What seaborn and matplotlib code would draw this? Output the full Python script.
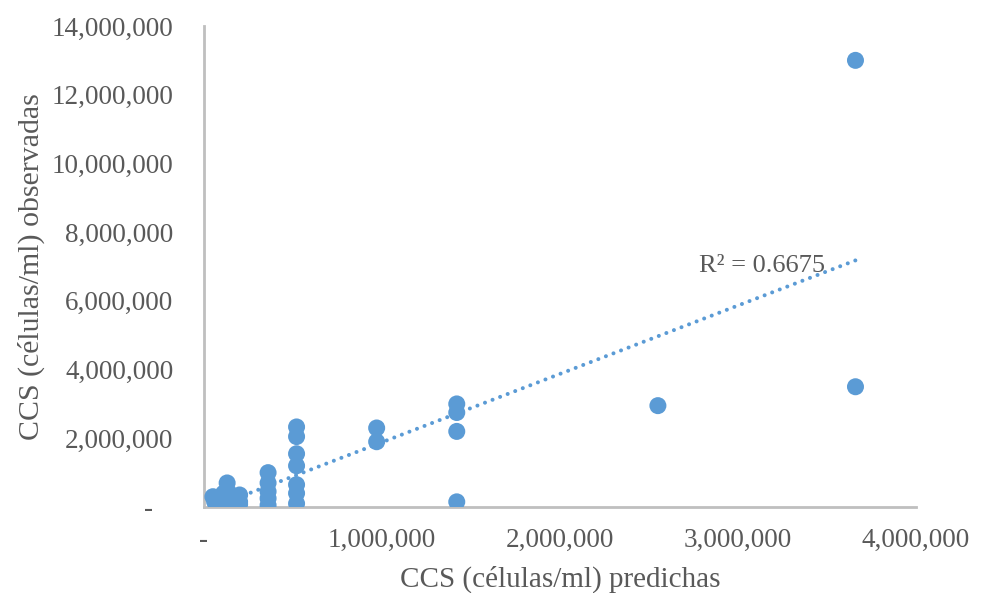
import numpy as np
import pandas as pd
import matplotlib
matplotlib.use("Agg")
import matplotlib.pyplot as plt
from matplotlib.ticker import FuncFormatter
import seaborn as sns

# Somatic cell count (CCS): predicted vs observed, cells/ml
predichas = [
    50_000, 60_000, 130_000, 135_000, 140_000, 200_000, 200_000, 100_000,
    120_000, 120_000, 150_000, 90_000, 170_000, 110_000, 130_000, 160_000,
    80_000, 100_000, 120_000, 140_000, 180_000, 200_000, 90_000, 150_000,
    110_000, 190_000, 70_000, 130_000, 160_000, 100_000, 180_000,
    120_000, 150_000,
    360_000, 360_000, 360_000, 360_000, 360_000,
    520_000, 520_000, 520_000, 520_000, 520_000, 520_000, 520_000,
    970_000, 970_000,
    1_420_000, 1_420_000, 1_420_000, 1_420_000,
    2_550_000,
    3_660_000, 3_660_000,
]
observadas = [
    300_000, 150_000, 700_000, 450_000, 50_000, 350_000, 80_000, 250_000,
    250_000, 200_000, 300_000, 100_000, 150_000, 400_000, 50_000, 200_000,
    60_000, 100_000, 80_000, 120_000, 60_000, 150_000, 200_000, 90_000,
    50_000, 250_000, 100_000, 60_000, 180_000, 300_000, 100_000,
    80_000, 150_000,
    1_000_000, 700_000, 450_000, 250_000, 50_000,
    2_330_000, 2_050_000, 1_550_000, 1_200_000, 650_000, 400_000, 100_000,
    2_300_000, 1_900_000,
    3_000_000, 2_750_000, 2_200_000, 150_000,
    2_950_000,
    13_000_000, 3_500_000,
]
r2_label = "R² = 0.6675"

x_ticks = [0, 1_000_000, 2_000_000, 3_000_000, 4_000_000]
y_ticks = [0, 2_000_000, 4_000_000, 6_000_000, 8_000_000, 10_000_000, 12_000_000, 14_000_000]

df = pd.DataFrame({"pred": predichas, "obs": observadas})

sns.set_theme(style="white")
plt.rcParams["font.family"] = ["Liberation Serif", "DejaVu Serif"]

blue = "#5b9bd5"
grey_txt = "#595959"
grey_axis = "#bfbfbf"

fig = plt.figure(figsize=(9.82, 5.93), dpi=100)
ax = fig.add_axes([204 / 982, 1 - 507 / 593, (916 - 204) / 982, (507 - 26) / 593])

sns.scatterplot(data=df, x="pred", y="obs", ax=ax, s=150, color=blue,
                edgecolor="none", linewidth=0, alpha=1, zorder=3)

# Linear least-squares trend line over the data range
slope, intercept = np.polyfit(df["pred"], df["obs"], 1)
xs = np.array([df["pred"].min(), df["pred"].max()])
ax.plot(xs, slope * xs + intercept, color=blue, lw=2.9, ls=(0, (0.01, 2.0)),
        dash_capstyle="round", zorder=2)

ax.text(2_780_000, 7_000_000, r2_label, fontsize=19, color=grey_txt,
        ha="left", va="center", zorder=4)

ax.set_xlim(0, 4_000_000)
ax.set_ylim(0, 14_000_000)
ax.set_xticks(x_ticks)
ax.set_yticks(y_ticks)


def fmt_y(v, pos):
    return "-   " if v == 0 else f"{v:,.0f}"


def fmt_x(v, pos):
    return "-" if v == 0 else f"{v:,.0f}"


ax.yaxis.set_major_formatter(FuncFormatter(fmt_y))
ax.xaxis.set_major_formatter(FuncFormatter(fmt_x))
ax.tick_params(axis="both", length=0, labelsize=19.5, labelcolor=grey_txt)
ax.tick_params(axis="y", pad=22)
ax.tick_params(axis="x", pad=15)

for side in ("top", "right"):
    ax.spines[side].set_visible(False)
for side in ("left", "bottom"):
    ax.spines[side].set_color(grey_axis)
    ax.spines[side].set_linewidth(2)

ax.set_xlabel("CCS (células/ml) predichas", fontsize=21, color=grey_txt, labelpad=9)
ax.set_ylabel("CCS (células/ml) observadas", fontsize=21.5, color=grey_txt, labelpad=5)
ax.grid(False)

fig.savefig("out.png", dpi=100)
